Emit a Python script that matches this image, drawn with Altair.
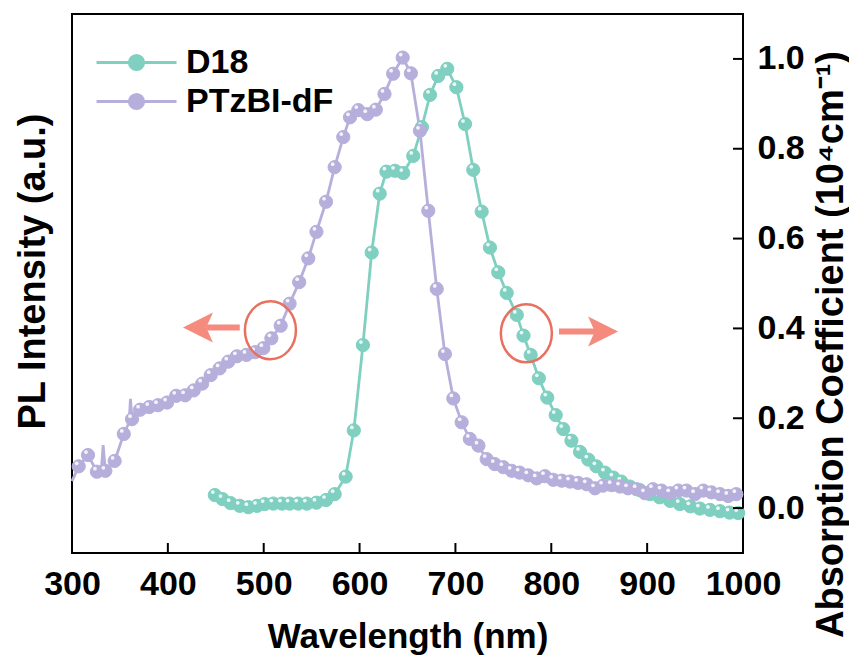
import altair as alt
import pandas as pd

# ---------------- data ----------------
d18_wl = [449, 457, 465.5, 475, 484, 493, 501, 510, 519, 527, 536, 545, 555, 565, 574,
          585.5, 594, 603.5, 612.6, 621, 628, 637, 645.6, 656, 665, 673.5, 682, 691.5,
          701, 710, 718.6, 727.4, 736, 744.7, 753.5, 764, 771, 778.5, 787, 795.8, 804.6,
          812.5, 821, 830, 838.6, 847, 856, 864.7, 873, 882, 892.5, 903, 913, 924, 934,
          945, 955, 965.5, 976, 986, 995]
d18_val = [0.029, 0.020, 0.011, 0.005, 0.002, 0.005, 0.009, 0.010, 0.010, 0.010, 0.010,
           0.010, 0.012, 0.018, 0.031, 0.070, 0.173, 0.363, 0.569, 0.700, 0.749, 0.751,
           0.746, 0.784, 0.848, 0.920, 0.962, 0.978, 0.937, 0.855, 0.753, 0.660, 0.580,
           0.525, 0.479, 0.430, 0.384, 0.341, 0.289, 0.246, 0.207, 0.176, 0.150, 0.125,
           0.108, 0.093, 0.079, 0.068, 0.059, 0.048, 0.040, 0.031, 0.024, 0.016, 0.009,
           0.004, -0.001, -0.004, -0.007, -0.010, -0.011]

ptz_wl = [300, 307, 316.7, 326, 330.5, 332.5, 334.8, 344.5, 354, 359.5, 361, 362.6, 371,
          380.6, 389.7, 399.2, 408.7, 418, 427, 435.8, 444.7, 454, 463, 472, 482, 491,
          499.6, 508, 517.7, 527, 537, 546.5, 555, 565, 574, 583, 590, 598.7, 608, 617,
          626, 635, 645, 653.5, 663, 671.7, 680.5, 689, 697.8, 706.5, 715, 724, 732.6,
          741, 750, 758.7, 767, 776, 784.8, 793.4, 802, 811, 819.5, 828, 837, 845.6, 854,
          863, 871.7, 880, 889, 897.7, 906, 915, 924, 932.5, 941, 950, 958.6, 967, 976,
          984.6, 993, 1000]
ptz_val = [0.060, 0.093, 0.118, 0.081, 0.082, 0.140, 0.083, 0.105, 0.165, 0.190, 0.243,
           0.198, 0.219, 0.225, 0.229, 0.235, 0.250, 0.251, 0.262, 0.277, 0.296, 0.311,
           0.326, 0.338, 0.341, 0.347, 0.356, 0.378, 0.406, 0.455, 0.503, 0.556, 0.615,
           0.682, 0.759, 0.826, 0.870, 0.886, 0.877, 0.887, 0.922, 0.967, 1.003, 0.968,
           0.840, 0.662, 0.488, 0.343, 0.244, 0.191, 0.154, 0.139, 0.109, 0.098, 0.091,
           0.083, 0.079, 0.073, 0.066, 0.071, 0.063, 0.061, 0.059, 0.056, 0.053, 0.044,
           0.050, 0.051, 0.048, 0.044, 0.042, 0.033, 0.042, 0.039, 0.033, 0.039, 0.039,
           0.031, 0.039, 0.035, 0.031, 0.027, 0.031, 0.028]
ptz_marker = [False, True, True, True, False, False, True, True, True, False, False, True] + \
             [True] * (len(ptz_wl) - 13) + [False]

series_names = ["D18", "PTzBI-dF"]
x_tick_labels = [300, 400, 500, 600, 700, 800, 900, 1000]
x_inner_ticks = [400, 500, 600, 700, 800, 900]
y_tick_labels = [0.0, 0.2, 0.4, 0.6, 0.8, 1.0]

# annotation positions (wavelength, value)
ellipse_wl = [507, 774]
ellipse_val = [0.396, 0.389]
shaft_start = [475, 808]
shaft_end = [440, 846]
shaft_val = [0.402, 0.393]
head_wl = [431.4, 854]
head_dir = ["left", "right"]

# ---------------- styling ----------------
W, H = 671, 539
FONT = "Liberation Sans"
TEAL = "#7fd0c0"
PURPLE = "#b7afdb"
ARROW = "#f58b7e"
RING = "#e8705f"
MSIZE = 175

d18 = pd.DataFrame({"wl": d18_wl, "v": d18_val, "series": series_names[0]})
ptz = pd.DataFrame({"wl": ptz_wl, "v": ptz_val, "m": ptz_marker, "series": series_names[1]})
ptz_pts = ptz[ptz["m"]]

xs = alt.Scale(domain=[300, 1000], nice=False)
ys = alt.Scale(domain=[-0.1, 1.1], nice=False)

x_axis = alt.Axis(values=x_tick_labels, format="d", ticks=False, tickSize=0, domain=False,
                  grid=False, labelPadding=14, labelFont=FONT, labelFontSize=34,
                  labelFontWeight="bold", labelColor="black", labelFlush=False,
                  labelOverlap=False, title="Wavelength (nm)", titleFont=FONT,
                  titleFontSize=35, titleFontWeight="bold", titleColor="black",
                  titleBaseline="top", titleY=66)
X = alt.X("wl:Q", scale=xs, axis=x_axis)

right_axis = alt.Axis(orient="right", values=y_tick_labels, format=".1f", ticks=False,
                      tickSize=0, domain=False, grid=False, labelPadding=14, labelFont=FONT,
                      labelFontSize=34, labelFontWeight="bold", labelColor="black",
                      title="Absorption Coefficient (10\u2074cm\u207b\u00b9)", titleFont=FONT,
                      titleFontSize=38, titleFontWeight="bold", titleColor="black",
                      titleAngle=270, titleBaseline="top", titleAlign="center",
                      titleX=69, titleY=330)
left_axis = alt.Axis(orient="left", labels=False, ticks=False, domain=False, grid=False,
                     title="PL Intensity (a.u.)", titleFont=FONT, titleFontSize=38,
                     titleFontWeight="bold", titleColor="black", titleAngle=270,
                     titleBaseline="top", titleAlign="center", titleX=-58, titleY=257)

Y_none = alt.Y("v:Q", scale=ys, axis=None)

# symbol: 80 px line with a 14 px dot; path drawn past the unit box so rows stay compact
legend = alt.Legend(title=None, orient="none", legendX=43, legendY=27,
                    symbolType="M-2,0L2,0M0.36,0A0.36,0.36,0,1,1,-0.36,0A0.36,0.36,0,1,1,0.36,0Z",
                    symbolSize=1600, symbolStrokeWidth=2.8, labelFont=FONT, labelFontSize=34,
                    labelFontWeight="bold", labelColor="black", labelOffset=28,
                    rowPadding=0, padding=0, symbolOpacity=1)
fill_scale = alt.Scale(domain=series_names, range=[TEAL, PURPLE])
stroke_scale = alt.Scale(domain=series_names, range=[TEAL, PURPLE])

teal_line = alt.Chart(d18).mark_line(color=TEAL, strokeWidth=2.8).encode(
    x=X, y=alt.Y("v:Q", scale=ys, axis=right_axis))
teal_pts = alt.Chart(d18).mark_point(filled=True, size=MSIZE, strokeWidth=1, opacity=1).encode(
    x=X, y=Y_none,
    fill=alt.Fill("series:N", scale=fill_scale, legend=legend),
    stroke=alt.Stroke("series:N", scale=stroke_scale, legend=legend))
teal_hl = alt.Chart(d18).mark_point(filled=True, size=14, color="white", opacity=0.85,
                                    xOffset=-2, yOffset=-3).encode(x=X, y=Y_none)

ptz_line = alt.Chart(ptz).mark_line(color=PURPLE, strokeWidth=2.8).encode(
    x=X, y=alt.Y("v:Q", scale=ys, axis=left_axis))
ptz_dots = alt.Chart(ptz_pts).mark_point(filled=True, size=MSIZE, strokeWidth=1, opacity=1,
                                         fill=PURPLE, stroke=PURPLE).encode(x=X, y=Y_none)
ptz_hl = alt.Chart(ptz_pts).mark_point(filled=True, size=14, color="white", opacity=0.85,
                                       xOffset=-2, yOffset=-3).encode(x=X, y=Y_none)

ann_e = pd.DataFrame({"wl": ellipse_wl, "v": ellipse_val})
ellipses = alt.Chart(ann_e).mark_point(
    shape="M-0.88,0A0.88,1,0,1,0,0.88,0A0.88,1,0,1,0,-0.88,0Z",
    size=3364, filled=False, stroke=RING, strokeWidth=2.5, opacity=1).encode(x=X, y=Y_none)

ann_s = pd.DataFrame({"wl": shaft_start, "wl2": shaft_end, "v": shaft_val})
shafts = alt.Chart(ann_s).mark_rule(color=ARROW, strokeWidth=6).encode(
    x=X, x2="wl2:Q", y=Y_none)

ann_h = pd.DataFrame({"wl": head_wl, "v": shaft_val, "dir": head_dir})
heads = alt.Chart(ann_h).mark_point(filled=True, size=900, opacity=1, color=ARROW).encode(
    x=X, y=Y_none,
    shape=alt.Shape("dir:N", scale=alt.Scale(domain=["left", "right"],
                                              range=["M-1,0L1,-1L0.55,0L1,1Z",
                                                     "M1,0L-1,-1L-0.55,0L-1,1Z"]),
                    legend=None))

xt = pd.DataFrame({"wl": x_inner_ticks})
x_ticks = alt.Chart(xt).mark_rule(color="black", strokeWidth=2).encode(
    x=X, y=alt.value(H), y2=alt.value(H - 10))
yt = pd.DataFrame({"v": y_tick_labels})
y_ticks = alt.Chart(yt).mark_rule(color="black", strokeWidth=2).encode(
    y=Y_none, x=alt.value(W - 10), x2=alt.value(W))

chart = alt.layer(
    teal_line, ptz_line, teal_pts, teal_hl, ptz_dots, ptz_hl,
    ellipses, shafts, heads, x_ticks, y_ticks
).resolve_axis(y="independent").properties(
    width=W, height=H,
    padding={"left": 64, "top": 6, "right": 106, "bottom": 103},
    autosize=alt.AutoSizeParams(type="none"),
    background="white",
).configure_view(stroke="black", strokeWidth=2).configure_axis(grid=False)

chart.save("out.html", embed_options={"renderer": "svg", "actions": False})
